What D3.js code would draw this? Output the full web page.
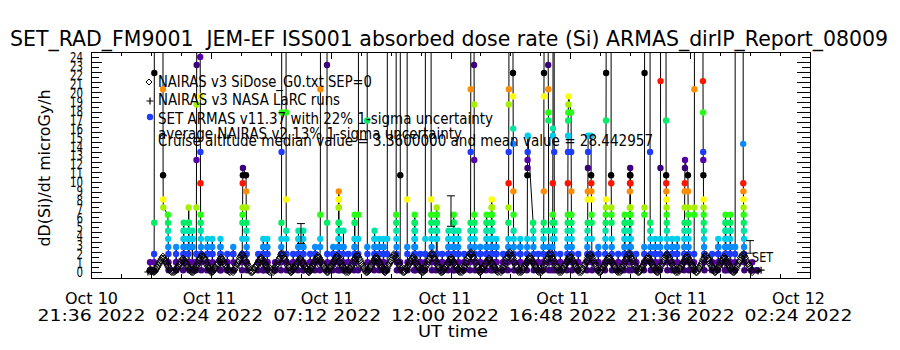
<!DOCTYPE html>
<html>
<head>
<meta charset="utf-8">
<script src="https://cdn.jsdelivr.net/npm/d3@7"></script>
<style>
  body { margin: 0; background: #fff; }
  svg { display: block; font-family: "DejaVu Sans", sans-serif; }
</style>
</head>
<body>
<div id="chart"></div>
<script>
// ---- data (hours are UT hours counted from 2022-10-10 00:00) ----
const xTickHours = [21.6, 26.4, 31.2, 36.0, 40.8, 45.6, 50.4];
const yTickValues = d3.range(0, 25);

// SET ARMAS samples, grouped in short bursts (one burst = consecutive samples)
const armasColumnHour = [
  23.96, 24.12, 24.48, 24.68, 25.00, 25.29, 25.49, 25.65, 25.81, 25.97,
  26.25, 26.45, 26.77, 27.05, 27.29, 27.65, 27.81, 28.29, 28.49, 28.65,
  28.97, 29.21, 29.41, 29.69, 29.89, 30.09, 30.37, 30.57, 30.77, 31.05,
  31.29, 31.49, 31.70, 31.90, 32.14, 32.30, 32.66, 32.94, 33.14, 33.30,
  33.46, 33.82, 33.98, 34.26, 34.54, 34.78, 34.98, 35.22, 35.42, 35.66,
  35.90, 36.10, 36.30, 36.54, 36.78, 36.94, 37.18, 37.42, 37.62, 37.82,
  38.10, 38.30, 38.50, 38.78, 39.06, 39.31, 39.51, 39.71, 39.91, 40.07,
  40.15, 40.39, 40.67, 40.83, 41.11, 41.47, 41.63, 41.91, 42.19, 42.43,
  42.71, 42.95, 43.15, 43.43, 43.75, 43.99, 44.19, 44.39, 44.63, 44.87,
  45.07, 45.35, 45.51, 45.75, 46.11, 46.47, 46.71, 46.99, 47.19, 47.39,
  47.72, 48.08, 48.28
];
const armasColumnDose = [
  [0.2, 1.1, 0.2],
  [0.2, 1.1, 2.0, 5.5, 22.2, 65],
  [65, 20.4, 10.8, 8.1, 7.2],
  [6.4, 5.5, 4.6, 3.7, 2.8, 2.0, 1.1, 0.2],
  [0.2, 1.1, 2.0, 2.8, 1.1, 0.2],
  [0.2, 1.1, 2.0, 2.8, 3.7, 4.6, 5.5, 4.6, 3.7, 2.8, 2.0, 1.1],
  [1.1, 2.0, 2.8, 3.7, 4.6, 5.5, 7.2, 5.5, 4.6, 3.7, 2.8, 1.1, 0.2],
  [0.2, 2.8, 3.7, 4.6, 3.7, 2.8, 1.1],
  [0.2, 1.1, 2.0, 7.2, 12.5, 18.7, 23.1, 90],
  [90, 24.0, 19.6, 13.4, 9.9, 6.4, 5.5, 4.6, 3.7, 2.8, 2.0, 1.1, 0.2],
  [0.2, 1.1, 2.0, 2.8, 3.7, 2.8, 2.0, 1.1],
  [0.2, 2.0, 2.8, 3.7, 2.0, 1.1],
  [0.2, 1.1, 2.0, 2.8, 3.7, 2.8, 2.0, 1.1, 0.2],
  [0.2, 1.1, 2.0, 1.1, 0.2],
  [0.2, 2.0, 2.8, 2.0, 1.1],
  [0.2, 1.1, 2.0, 3.7, 5.5, 6.4, 7.2, 9.9, 10.8, 11.6],
  [10.8, 9.0, 7.2, 5.5, 4.6, 3.7, 2.8, 2.0, 1.1, 0.2],
  [0.2, 1.1, 2.0, 1.1],
  [0.2, 2.0, 2.8, 3.7, 2.8, 2.0, 1.1, 0.2],
  [0.2, 1.1, 2.0, 3.7, 2.8, 2.0, 1.1],
  [0.2, 1.1, 0.2],
  [0.2, 1.1, 2.0, 2.8, 3.7, 5.5, 13.4, 17.8, 120],
  [120, 17.8, 8.1, 4.6, 3.7, 2.0, 1.1, 0.2],
  [0.2, 1.1, 2.0, 1.1],
  [0.2, 1.1, 2.0, 2.8, 3.7, 4.6, 3.7, 2.8, 2.0, 1.1],
  [0.2, 2.0, 2.8, 3.7, 4.6, 2.8, 2.0, 1.1, 0.2],
  [0.2, 1.1, 2.0, 1.1],
  [0.2, 2.0, 2.8, 2.0, 1.1],
  [0.2, 1.1, 2.8, 3.7, 6.4, 20.4, 70],
  [70, 23.1, 5.5, 2.0, 1.1, 0.2],
  [0.2, 1.1, 2.0, 2.8, 2.0, 1.1],
  [0.2, 1.1, 2.0, 2.8, 3.7, 4.6, 5.5, 7.2, 8.1, 9.0, 8.1, 7.2, 5.5, 4.6, 3.7, 2.8, 2.0, 1.1, 0.2],
  [0.2, 2.0, 2.8, 4.6, 2.8, 1.1],
  [0.2, 1.1, 2.0, 1.1],
  [0.2, 1.1, 2.0, 2.8, 3.7, 5.5, 6.4, 5.5, 3.7, 2.8, 2.0, 1.1],
  [0.2, 2.0, 3.7, 6.4, 85],
  [85, 16.9, 2.8, 2.0, 1.1, 0.2],
  [0.2, 1.1, 2.0, 2.8, 3.7, 4.6, 3.7, 2.8, 2.0, 1.1],
  [0.2, 2.0, 2.8, 3.7, 2.8, 2.0, 1.1],
  [0.2, 1.1, 2.0, 2.8, 3.7, 2.8, 2.0, 1.1, 0.2],
  [0.2, 2.0, 3.7, 110],
  [110, 6.4, 5.5, 4.6, 3.7, 2.8, 2.0, 1.1, 0.2],
  [0.2, 1.1, 10.8, 95],
  [95, 8.1, 2.8, 2.0, 1.1, 0.2],
  [0.2, 1.1, 2.0, 2.8, 3.7, 4.6, 5.5, 6.4, 5.5, 4.6, 3.7, 2.8, 2.0, 1.1, 0.2],
  [0.2, 1.1, 2.0, 1.1],
  [0.2, 1.1, 2.0, 3.7, 60],
  [60, 8.1, 6.4, 5.5, 4.6, 3.7, 2.8, 2.0, 1.1, 0.2],
  [0.2, 1.1, 2.0, 3.7, 4.6, 5.5, 6.4, 7.2, 6.4, 5.5, 4.6, 3.7, 2.0, 1.1],
  [0.2, 1.1, 2.0, 1.1],
  [0.2, 1.1, 2.0, 2.8, 3.7, 4.6, 3.7, 2.8, 2.0, 1.1],
  [0.2, 1.1, 2.0, 2.8, 3.7, 4.6, 5.5, 6.4, 5.5, 4.6, 3.7, 2.8, 2.0, 1.1, 0.2],
  [0.2, 2.0, 2.8, 3.7, 4.6, 3.7, 2.0, 1.1],
  [0.2, 1.1, 2.0, 1.1],
  [0.2, 1.1, 2.0, 2.8, 3.7, 4.6, 5.5, 13.4, 20.4, 150],
  [150, 23.1, 18.7, 12.5, 6.4, 5.5, 4.6, 3.7, 2.8, 2.0, 1.1, 0.2],
  [0.2, 1.1, 2.0, 2.8, 2.0, 1.1],
  [0.2, 1.1, 2.0, 2.8, 3.7, 4.6, 5.5, 6.4, 5.5, 4.6, 3.7, 2.8, 2.0, 1.1],
  [0.2, 2.0, 2.8, 3.7, 4.6, 5.5, 6.4, 7.2, 8.1, 7.2, 6.4, 5.5, 4.6, 3.7, 2.8, 2.0, 1.1, 0.2],
  [0.2, 1.1, 2.0, 2.8, 3.7, 2.8, 2.0, 1.1],
  [0.2, 1.1, 2.0, 1.1],
  [0.2, 1.1, 2.0, 2.8, 3.7, 5.5, 7.2, 9.9, 13.4, 18.7, 20.4, 200],
  [200, 22.2, 19.6, 16.0, 14.3, 9.0, 6.4, 4.6, 3.7, 2.8, 2.0, 1.1, 0.2],
  [0.2, 1.1, 2.0, 2.8, 3.7, 2.8, 2.0, 1.1],
  [0.2, 1.1, 2.0, 2.8, 3.7, 10.8, 11.6, 12.5, 13.4, 15.2],
  [5.5, 4.6, 3.7, 2.8, 2.0, 1.1, 0.2],
  [0.2, 1.1, 2.0, 1.1],
  [0.2, 1.1, 2.0, 2.8, 3.7, 4.6, 5.5, 9.0, 19.6, 22.2, 180],
  [180, 23.1, 20.4, 17.8, 16.9, 4.6, 2.8, 2.0, 1.1, 0.2],
  [0.2, 1.1, 2.0, 2.8, 3.7, 5.5, 6.4, 9.9, 15.2, 16.0, 130],
  [130, 13.4, 5.5, 4.6, 3.7, 2.0, 1.1, 0.2],
  [0.2, 1.1, 2.0, 1.1],
  [0.2, 1.1, 2.0, 2.8, 3.7, 4.6, 5.5, 6.4, 9.9, 13.4, 15.2, 16.9, 17.8, 18.7, 19.6],
  [17.8, 13.4, 9.0, 6.4, 5.5, 4.6, 3.7, 2.8, 2.0, 1.1, 0.2],
  [0.2, 1.1, 2.0, 1.1],
  [0.2, 1.1, 2.0, 2.8, 3.7, 4.6, 5.5, 8.1, 9.0, 11.6, 13.4, 15.2],
  [15.2, 10.8, 9.9, 9.0, 8.1, 6.4, 5.5, 3.7, 2.0, 1.1, 0.2],
  [0.2, 1.1, 2.0, 2.8, 2.0, 1.1],
  [0.2, 1.1, 2.0, 2.8, 3.7, 4.6, 5.5, 6.4, 7.2, 8.1, 16.9, 22.2, 160],
  [160, 10.8, 9.9, 7.2, 6.4, 5.5, 3.7, 2.8, 2.0, 1.1, 0.2],
  [0.2, 1.1, 2.0, 1.1],
  [0.2, 1.1, 2.0, 2.8, 3.7, 4.6, 5.5, 6.4, 5.5, 4.6, 3.7, 2.0, 1.1],
  [0.2, 1.1, 2.0, 2.8, 3.7, 4.6, 5.5, 6.4, 7.2, 9.0, 9.9, 10.8, 11.6, 10.8, 9.9, 7.2, 6.4, 5.5, 3.7, 2.8, 2.0, 1.1, 0.2],
  [0.2, 1.1, 2.0, 1.1],
  [0.2, 1.1, 2.0, 2.8, 6.4, 7.2, 22.2, 140],
  [140, 13.4, 5.5, 4.6, 3.7, 2.8, 2.0, 1.1, 0.2],
  [0.2, 1.1, 2.0, 2.8, 3.7, 2.8, 2.0, 1.1],
  [0.2, 1.1, 2.0, 2.8, 3.7, 11.6, 21.3, 100],
  [100, 16.9, 10.8, 9.9, 9.0, 8.1, 7.2, 6.4, 5.5, 4.6, 3.7, 2.8, 2.0, 1.1, 0.2],
  [0.2, 1.1, 2.0, 2.8, 3.7, 2.8, 2.0, 1.1],
  [0.2, 2.0, 2.8, 3.7, 2.0, 1.1],
  [0.2, 1.1, 2.0, 2.8, 3.7, 4.6, 5.5, 7.2, 9.0, 9.9, 11.6, 12.5],
  [10.8, 9.0, 7.2, 6.4, 5.5, 4.6, 3.7, 2.8, 2.0, 1.1, 0.2],
  [0.2, 1.1, 2.0, 6.4, 7.2, 20.4, 90],
  [90, 21.3, 17.8, 13.4, 12.5, 10.8, 8.1, 7.2, 6.4, 5.5, 4.6, 3.7, 2.8, 2.0, 1.1, 0.2],
  [0.2, 1.1, 2.0, 1.1],
  [0.2, 1.1, 2.0, 2.8, 3.7, 2.8, 2.0, 1.1],
  [0.2, 1.1, 2.0, 2.8, 3.7, 4.6, 5.5, 6.4, 5.5, 4.6, 3.7, 2.8, 2.0, 1.1, 0.2],
  [0.2, 2.0, 2.8, 3.7, 4.6, 5.5, 6.4, 4.6, 2.8, 1.1],
  [0.2, 1.1, 2.0, 2.8, 170],
  [170, 14.3, 9.9, 9.0, 8.1, 7.2, 6.4, 5.5, 4.6, 3.7, 2.8, 2.0, 1.1, 0.2],
  [0.2, 1.1, 0.2],
  [0.2, 0.2]
];
const armasStepHours = 0.004; // sample spacing inside a burst

// NAIRAS v3 model along the orbit, one hump per entry, 0.04 h cadence
const nairasHumpStart = [
  23.96, 24.12, 24.92, 25.69, 26.45, 27.29, 28.05, 28.89, 29.61, 30.33,
  31.09, 31.90, 32.66, 33.38, 34.14, 34.90, 35.66, 36.46, 37.18, 38.02,
  38.82, 39.63, 40.43, 41.23, 41.99, 42.79, 43.55, 44.31, 45.11, 45.87,
  46.60, 47.36
];
const nairasHumpDose = [
  [0.1, 0.2, 0.2, 0.1, 0.1],
  [0.0, 0.1, 0.3, 0.5, 0.7, 0.9, 1.1, 1.3, 1.5, 1.7, 1.5, 1.3, 1.1, 0.9, 0.7, 0.5, 0.3, 0.1, 0.0],
  [0.0, 0.1, 0.3, 0.4, 0.6, 0.8, 1.0, 1.1, 1.3, 1.5, 1.3, 1.1, 1.0, 0.8, 0.6, 0.4, 0.3, 0.1, 0.0],
  [0.0, 0.2, 0.4, 0.6, 0.8, 1.0, 1.3, 1.5, 1.7, 1.9, 1.7, 1.5, 1.3, 1.0, 0.8, 0.6, 0.4, 0.2, 0.0],
  [0.0, 0.1, 0.3, 0.5, 0.7, 0.8, 1.0, 1.2, 1.4, 1.6, 1.4, 1.2, 1.0, 0.8, 0.7, 0.5, 0.3, 0.1, 0.0],
  [0.0, 0.2, 0.4, 0.7, 0.9, 1.1, 1.3, 1.6, 1.8, 2.0, 1.8, 1.6, 1.3, 1.1, 0.9, 0.7, 0.4, 0.2, 0.0],
  [0.0, 0.1, 0.3, 0.5, 0.7, 0.8, 1.0, 1.2, 1.4, 1.6, 1.5, 1.3, 1.1, 0.9, 0.7, 0.5, 0.3, 0.1, 0.0],
  [0.0, 0.2, 0.5, 0.7, 0.9, 1.2, 1.4, 1.6, 1.9, 2.1, 1.9, 1.6, 1.4, 1.2, 0.9, 0.7, 0.5, 0.2, 0.0],
  [0.0, 0.1, 0.3, 0.4, 0.6, 0.8, 1.0, 1.1, 1.3, 1.5, 1.3, 1.1, 1.0, 0.8, 0.6, 0.4, 0.3, 0.1, 0.0],
  [0.0, 0.2, 0.4, 0.6, 0.8, 1.0, 1.2, 1.4, 1.6, 1.8, 1.6, 1.4, 1.2, 1.0, 0.8, 0.6, 0.4, 0.2, 0.0],
  [0.0, 0.2, 0.4, 0.6, 0.8, 1.0, 1.2, 1.4, 1.6, 1.8, 1.7, 1.5, 1.2, 1.0, 0.8, 0.6, 0.4, 0.2, 0.0],
  [0.0, 0.2, 0.4, 0.6, 0.8, 1.0, 1.3, 1.5, 1.7, 1.9, 1.7, 1.5, 1.3, 1.0, 0.8, 0.6, 0.4, 0.2, 0.0],
  [0.0, 0.1, 0.3, 0.5, 0.7, 0.9, 1.1, 1.3, 1.5, 1.7, 1.5, 1.3, 1.1, 0.9, 0.7, 0.5, 0.3, 0.1, 0.0],
  [0.0, 0.2, 0.4, 0.7, 0.9, 1.1, 1.3, 1.6, 1.8, 2.0, 1.8, 1.6, 1.3, 1.1, 0.9, 0.7, 0.4, 0.2, 0.0],
  [0.0, 0.1, 0.3, 0.5, 0.7, 0.9, 1.1, 1.3, 1.5, 1.7, 1.6, 1.4, 1.1, 0.9, 0.7, 0.5, 0.3, 0.1, 0.0],
  [0.0, 0.2, 0.5, 0.7, 0.9, 1.2, 1.4, 1.6, 1.9, 2.1, 1.9, 1.6, 1.4, 1.2, 0.9, 0.7, 0.5, 0.2, 0.0],
  [0.0, 0.1, 0.3, 0.5, 0.7, 0.8, 1.0, 1.2, 1.4, 1.6, 1.4, 1.2, 1.0, 0.8, 0.7, 0.5, 0.3, 0.1, 0.0],
  [0.0, 0.2, 0.5, 0.7, 1.0, 1.2, 1.5, 1.7, 2.0, 2.2, 2.0, 1.7, 1.5, 1.2, 1.0, 0.7, 0.5, 0.2, 0.0],
  [0.0, 0.1, 0.3, 0.4, 0.6, 0.8, 1.0, 1.1, 1.3, 1.5, 1.3, 1.1, 1.0, 0.8, 0.6, 0.4, 0.3, 0.1, 0.0],
  [0.0, 0.2, 0.5, 0.7, 1.0, 1.2, 1.5, 1.7, 2.0, 2.2, 2.0, 1.8, 1.5, 1.2, 1.0, 0.7, 0.5, 0.2, 0.0],
  [0.0, 0.1, 0.3, 0.5, 0.7, 0.9, 1.1, 1.3, 1.5, 1.7, 1.5, 1.3, 1.1, 0.9, 0.7, 0.5, 0.3, 0.1, 0.0],
  [0.0, 0.2, 0.5, 0.7, 0.9, 1.2, 1.4, 1.6, 1.9, 2.1, 1.9, 1.6, 1.4, 1.2, 0.9, 0.7, 0.5, 0.2, 0.0],
  [0.0, 0.2, 0.4, 0.6, 0.8, 1.0, 1.2, 1.4, 1.6, 1.8, 1.6, 1.4, 1.2, 1.0, 0.8, 0.6, 0.4, 0.2, 0.0],
  [0.0, 0.2, 0.4, 0.7, 0.9, 1.1, 1.3, 1.6, 1.8, 2.0, 1.8, 1.6, 1.3, 1.1, 0.9, 0.7, 0.4, 0.2, 0.0],
  [0.0, 0.1, 0.3, 0.5, 0.7, 0.9, 1.1, 1.3, 1.5, 1.7, 1.5, 1.3, 1.1, 0.9, 0.7, 0.5, 0.3, 0.1, 0.0],
  [0.0, 0.2, 0.5, 0.7, 0.9, 1.2, 1.4, 1.6, 1.9, 2.1, 1.9, 1.6, 1.4, 1.2, 0.9, 0.7, 0.5, 0.2, 0.0],
  [0.0, 0.1, 0.3, 0.5, 0.7, 0.9, 1.1, 1.3, 1.5, 1.7, 1.5, 1.3, 1.1, 0.9, 0.7, 0.5, 0.3, 0.1, 0.0],
  [0.0, 0.2, 0.4, 0.7, 0.9, 1.1, 1.3, 1.6, 1.8, 2.0, 1.8, 1.6, 1.3, 1.1, 0.9, 0.7, 0.4, 0.2, 0.0],
  [0.0, 0.2, 0.4, 0.6, 0.8, 1.0, 1.2, 1.4, 1.6, 1.8, 1.6, 1.4, 1.2, 1.0, 0.8, 0.6, 0.4, 0.2, 0.0],
  [0.0, 0.2, 0.4, 0.6, 0.8, 1.0, 1.3, 1.5, 1.7, 1.9, 1.7, 1.5, 1.3, 1.0, 0.8, 0.6, 0.4, 0.2, 0.0],
  [0.0, 0.1, 0.3, 0.5, 0.7, 0.9, 1.1, 1.3, 1.5, 1.7, 1.5, 1.3, 1.1, 0.9, 0.7, 0.5, 0.3, 0.1, 0.0],
  [0.0, 0.2, 0.4, 0.7, 0.9, 1.1, 1.3, 1.6, 1.8, 2.0, 1.8, 1.6, 1.3, 1.1, 0.9, 0.7, 0.4, 0.2, 0.0]
];
const nairasStepHours = 0.04;

// NAIRAS v3 NASA LaRC runs
const larcHour = [23.88, 24.00, 48.32, 48.44];
const larcDose = [0.0, 0.1, 0.1, 0.2];

// SET ARMAS 22% 1-sigma error bars
const errHour = [30.01, 36.02, 48.00];
const errDose = [4.3, 6.8, 2.8];
const errSigma = [1.1, 1.7, 0.7];

// ---- chart ----
const width = 900, height = 350;
const plot = { left: 91, right: 810, top: 52, bottom: 278 };
const day0 = Date.UTC(2022, 9, 10);
const toDate = h => new Date(day0 + h * 3600e3);

const svg = d3.select("#chart").append("svg")
  .attr("width", width).attr("height", height);

const x = d3.scaleUtc()
  .domain([toDate(xTickHours[0]), toDate(xTickHours[xTickHours.length - 1])])
  .range([plot.left, plot.right]);
const y = d3.scaleLinear().domain([-0.67, 24.55]).range([plot.bottom, plot.top]);

// IDL rainbow table indexed by byte value, it wraps every 13 dose steps
const palette = ["#3c0078", "#5500a6", "#1e3cff", "#0a8cff", "#00cdeb", "#00e6a5",
                 "#00ee64", "#28ff14", "#a5f000", "#ffff00", "#ff8c00", "#ff1400", "#000000"];
const levelColor = d3.scaleOrdinal().domain(d3.range(13)).range(palette);
const doseColor = v => levelColor(((Math.round((v - 0.2) / 0.88) % 13) + 13) % 13);

svg.append("clipPath").attr("id", "plot-clip")
  .append("rect")
  .attr("x", plot.left).attr("y", plot.top)
  .attr("width", plot.right - plot.left).attr("height", plot.bottom - plot.top);

const g = svg.append("g").attr("clip-path", "url(#plot-clip)");

// flatten ARMAS bursts into one time series
const armas = [];
armasColumnHour.forEach((h, i) => {
  armasColumnDose[i].forEach((v, j) => armas.push({ t: toDate(h + j * armasStepHours), v }));
});

const line = d3.line().x(d => x(d.t)).y(d => y(d.v));
g.append("path").datum(armas)
  .attr("d", line)
  .attr("fill", "none")
  .attr("stroke", "#000")
  .attr("stroke-width", 1);

g.selectAll("circle.armas")
  .data(armas.filter(d => d.v < 25))
  .join("circle")
  .attr("class", "armas")
  .attr("cx", d => x(d.t))
  .attr("cy", d => y(d.v))
  .attr("r", 3.2)
  .attr("fill", d => doseColor(d.v));

// NAIRAS diamonds
const nairas = [];
nairasHumpStart.forEach((h, i) => {
  nairasHumpDose[i].forEach((v, j) => nairas.push({ t: toDate(h + j * nairasStepHours), v }));
});
const diamond = "M0,-3.6L3.6,0L0,3.6L-3.6,0Z";
g.selectAll("path.nairas")
  .data(nairas)
  .join("path")
  .attr("class", "nairas")
  .attr("d", diamond)
  .attr("transform", d => `translate(${x(d.t)},${y(d.v)})`)
  .attr("fill", "none")
  .attr("stroke", "#000")
  .attr("stroke-width", 1);

// LaRC plus signs
const plus = "M-3.5,0H3.5M0,-3.5V3.5";
g.selectAll("path.larc")
  .data(larcHour.map((h, i) => ({ t: toDate(h), v: larcDose[i] })))
  .join("path")
  .attr("class", "larc")
  .attr("d", plus)
  .attr("transform", d => `translate(${x(d.t)},${y(d.v)})`)
  .attr("stroke", "#000")
  .attr("stroke-width", 1.2);

// error bars
const errs = errHour.map((h, i) => ({ t: toDate(h), v: errDose[i], s: errSigma[i] }));
const eb = g.selectAll("g.err").data(errs).join("g").attr("class", "err")
  .attr("stroke", "#000").attr("stroke-width", 1);
eb.append("line")
  .attr("x1", d => x(d.t)).attr("x2", d => x(d.t))
  .attr("y1", d => y(d.v - d.s)).attr("y2", d => y(d.v + d.s));
eb.append("line")
  .attr("x1", d => x(d.t) - 4).attr("x2", d => x(d.t) + 4)
  .attr("y1", d => y(d.v - d.s)).attr("y2", d => y(d.v - d.s));
eb.append("line")
  .attr("x1", d => x(d.t) - 4).attr("x2", d => x(d.t) + 4)
  .attr("y1", d => y(d.v + d.s)).attr("y2", d => y(d.v + d.s));

const last = errs[errs.length - 1];
svg.append("text")
  .attr("x", x(last.t) + 2).attr("y", y(last.v - 1.7))
  .attr("font-size", 14).attr("textLength", 21).attr("lengthAdjust", "spacingAndGlyphs")
  .text("SET");

// ---- frame and axes ----
svg.append("rect")
  .attr("x", plot.left + 0.5).attr("y", plot.top + 0.5)
  .attr("width", plot.right - plot.left).attr("height", plot.bottom - plot.top)
  .attr("fill", "none").attr("stroke", "#000");

// small ticks every 5 px on both vertical sides
const sideTicks = d3.range(0, 45);
const tickY = i => Math.round(y(0) - i * 5) + 0.5;
svg.append("g").selectAll("line").data(sideTicks).join("line")
  .attr("x1", plot.left).attr("x2", (d, i) => plot.left + (i % 2 ? 8 : 11))
  .attr("y1", tickY).attr("y2", tickY)
  .attr("stroke", "#000");
svg.append("g").selectAll("line").data(sideTicks).join("line")
  .attr("x1", plot.right).attr("x2", (d, i) => plot.right - (i % 2 ? 8 : 13))
  .attr("y1", tickY).attr("y2", tickY)
  .attr("stroke", "#000");

// y labels (IDL puts one per integer, they overlap)
const yAxis = svg.append("g")
  .attr("transform", `translate(${plot.left},0)`)
  .call(d3.axisLeft(y).tickValues(yTickValues).tickSize(0).tickPadding(8));
yAxis.select(".domain").remove();
yAxis.selectAll("text")
  .attr("font-family", "DejaVu Sans, sans-serif")
  .attr("font-size", 14)
  .attr("fill", "#000")
  .attr("textLength", d => String(d).length * 6.5)
  .attr("lengthAdjust", "spacingAndGlyphs");

// x ticks top & bottom, inward
const majorDates = xTickHours.map(toDate);
const minorDates = d3.range(xTickHours[0], xTickHours[xTickHours.length - 1], 1.2).map(toDate);
[[plot.bottom, -1], [plot.top, 1]].forEach(([yy, dir]) => {
  svg.append("g").selectAll("line").data(minorDates).join("line")
    .attr("x1", d => Math.round(x(d)) + 0.5).attr("x2", d => Math.round(x(d)) + 0.5)
    .attr("y1", yy).attr("y2", yy + dir * 4)
    .attr("stroke", "#000");
  svg.append("g").selectAll("line").data(majorDates).join("line")
    .attr("x1", d => Math.round(x(d)) + 0.5).attr("x2", d => Math.round(x(d)) + 0.5)
    .attr("y1", yy).attr("y2", yy + dir * 7)
    .attr("stroke", "#000");
});

const fmtDay = d3.utcFormat("%b %d");
const fmtTime = d3.utcFormat("%H:%M %Y");
const xAxis = svg.append("g")
  .attr("transform", `translate(0,${plot.bottom})`)
  .call(d3.axisBottom(x).tickValues(majorDates).tickSize(0).tickFormat(""));
xAxis.select(".domain").remove();
xAxis.selectAll(".tick").each(function (d) {
  const tick = d3.select(this);
  const dx = -0.0167 * (x(d) - plot.left);
  tick.append("text").attr("x", dx).attr("y", 26)
    .attr("text-anchor", "middle").attr("fill", "#000")
    .attr("font-family", "DejaVu Sans, sans-serif").attr("font-size", 16)
    .attr("textLength", 53).attr("lengthAdjust", "spacingAndGlyphs")
    .text(fmtDay(d));
  tick.append("text").attr("x", dx).attr("y", 43)
    .attr("text-anchor", "middle").attr("fill", "#000")
    .attr("font-family", "DejaVu Sans, sans-serif").attr("font-size", 16)
    .attr("textLength", 108).attr("lengthAdjust", "spacingAndGlyphs")
    .text(fmtTime(d));
});

svg.append("text")
  .attr("x", 453).attr("y", 337).attr("text-anchor", "middle")
  .attr("font-size", 16).attr("textLength", 70).attr("lengthAdjust", "spacingAndGlyphs")
  .text("UT time");

svg.append("text")
  .attr("transform", "translate(50,168) rotate(-90)")
  .attr("text-anchor", "middle")
  .attr("font-size", 16).attr("textLength", 157).attr("lengthAdjust", "spacingAndGlyphs")
  .text("dD(Si)/dt microGy/h");

svg.append("text")
  .attr("x", 10).attr("y", 46)
  .attr("font-size", 21).attr("textLength", 878).attr("lengthAdjust", "spacingAndGlyphs")
  .style("white-space", "pre")
  .text("SET_RAD_FM9001  JEM-EF ISS001 absorbed dose rate (Si) ARMAS_dirIP_Report_08009");

// ---- legend ----
const legend = svg.append("g");
legend.append("path").attr("d", "M0,-3L3,0L0,3L-3,0Z").attr("transform", "translate(149,82)")
  .attr("fill", "none").attr("stroke", "#000");
legend.append("path").attr("d", plus).attr("transform", "translate(150,101)")
  .attr("stroke", "#000").attr("stroke-width", 1.2);
legend.append("circle").attr("cx", 150).attr("cy", 117).attr("r", 3.2).attr("fill", doseColor(2.0));

const legendLines = [
  ["NAIRAS v3 SiDose_G0.txt SEP=0", 87, 214],
  ["NAIRAS v3 NASA LaRC runs", 105, 182],
  ["SET ARMAS v11.37 with 22% 1-sigma uncertainty", 123.5, 335],
  ["average NAIRAS v2 13% 1-sigma uncertainty", 138.5, 304],
  ["Cruise altitude median value = 3.3600000 and mean value = 28.442957", 146, 495]
];
legend.selectAll("text").data(legendLines).join("text")
  .attr("x", 158).attr("y", d => d[1])
  .attr("font-size", 15.5)
  .attr("textLength", d => d[2]).attr("lengthAdjust", "spacingAndGlyphs")
  .text(d => d[0]);
</script>
</body>
</html>
